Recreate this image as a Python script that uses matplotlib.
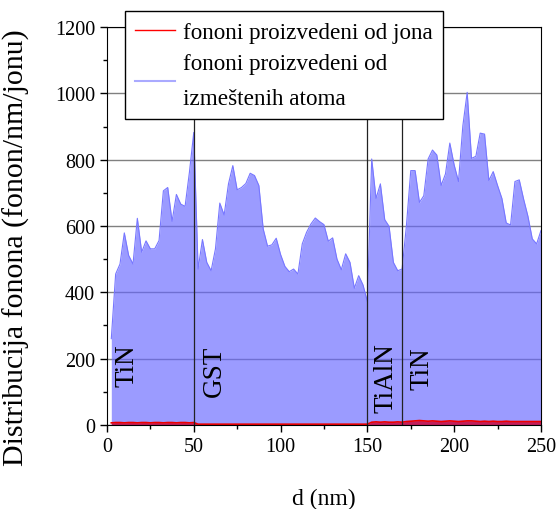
import numpy as np
import matplotlib.pyplot as plt

# depth (nm), sampled every 2.5 nm
d = np.arange(1, 101) * 2.5

# phonons from displaced atoms
atoms = [260, 455, 485, 579, 511, 485, 623, 521, 555, 531,
         531, 556, 706, 716, 614, 695, 666, 659, 762, 882,
         470, 559, 490, 465, 531, 669, 633, 727, 782, 709,
         716, 728, 759, 752, 722, 591, 539, 543, 563, 514,
         478, 462, 470, 455, 546, 581, 606, 624, 613, 604,
         554, 564, 500, 468, 516, 490, 412, 450, 422, 372,
         802, 683, 727, 619, 599, 490, 465, 470, 601, 767,
         767, 671, 691, 802, 829, 814, 722, 757, 850, 784,
         734, 902, 1003, 804, 810, 880, 877, 737, 764, 722,
         683, 609, 603, 734, 739, 681, 629, 561, 546, 586]

# phonons from ions
ions = [6, 7, 7, 6, 7, 7, 6, 7, 7, 6,
        7, 7, 6, 7, 7, 6, 7, 7, 6, 7,
        2, 2, 2, 2, 2, 2, 2, 2, 2, 2,
        2, 2, 2, 2, 2, 2, 2, 2, 2, 2,
        2, 2, 2, 2, 2, 2, 2, 2, 2, 2,
        2, 2, 2, 2, 2, 2, 2, 2, 2, 2,
        8, 9, 8, 9, 8, 8, 9, 8, 10, 11,
        12, 13, 12, 11, 12, 11, 10, 11, 12, 11,
        10, 11, 12, 12, 11, 10, 11, 10, 11, 10,
        10, 11, 10, 10, 10, 10, 10, 10, 10, 10]

# layer boundaries and names
boundaries = [50, 150, 170]
layers = ['TiN', 'GST', 'TiAlN', 'TiN']
layer_x = [11.7, 61.6, 161, 181.2]
layer_y = [180, 166, 145, 173]

plt.rcParams.update({
    'font.family': 'Liberation Serif',
    'font.size': 14.5,
})
fig = plt.figure(figsize=(5.6, 5.1), dpi=100)
ax = fig.add_axes([0.191, 0.165, 0.775, 0.780])
ax.set_axisbelow(True)
ax.grid(axis='y', color='#808080', lw=1.0)

ax.fill_between(d, atoms, color='#6666ff', alpha=0.65, lw=0)
ax.plot(d, atoms, color='#7777ff', lw=0.8)
ax.fill_between(d, ions, color='#cc0033', alpha=0.8, lw=0)
ax.plot(d, ions, color='#ee0000', lw=1.2)

for b in boundaries:
    ax.axvline(b, color='#222222', lw=0.9)

for name, x, y in zip(layers, layer_x, layer_y):
    ax.text(x, y, name, rotation=90, ha='center', va='center', fontsize=19.5)

ax.set_xlim(0, 250)
ax.set_ylim(0, 1200)
ax.set_xticks([0, 50, 100, 150, 200, 250])
ax.set_xticks(np.arange(0, 251, 25), minor=True)
ax.set_yticks(np.arange(0, 1201, 200))
ax.set_yticks(np.arange(0, 1201, 100), minor=True)
ax.tick_params(which='major', direction='out', length=5, width=1)
ax.tick_params(which='minor', direction='out', length=3, width=1)
ax.set_xlabel('d (nm)', labelpad=23, fontsize=17)
ax.set_ylabel('Distribucija fonona (fonon/nm/jonu)', fontsize=21.5)
ax.yaxis.set_label_coords(-0.178, 0.447)

# legend with line handles, sticking out above the axes
h1, = ax.plot([], [], color='red', lw=1.0)
h2, = ax.plot([], [], color='#aaaaff', lw=1.5)
leg = fig.legend([h1, h2],
                 ['fononi proizvedeni od jona', 'fononi proizvedeni od\nizmeštenih atoma'],
                 loc='upper left', bbox_to_anchor=(0.223, 0.976),
                 fancybox=False, framealpha=1, edgecolor='black', fontsize=16.7,
                 handlelength=1.7, handletextpad=0.35, borderaxespad=0,
                 borderpad=0.45, labelspacing=0.45)
leg.get_frame().set_linewidth(1.0)
leg.get_texts()[1].set_linespacing(1.85)

fig.savefig('out.png')
